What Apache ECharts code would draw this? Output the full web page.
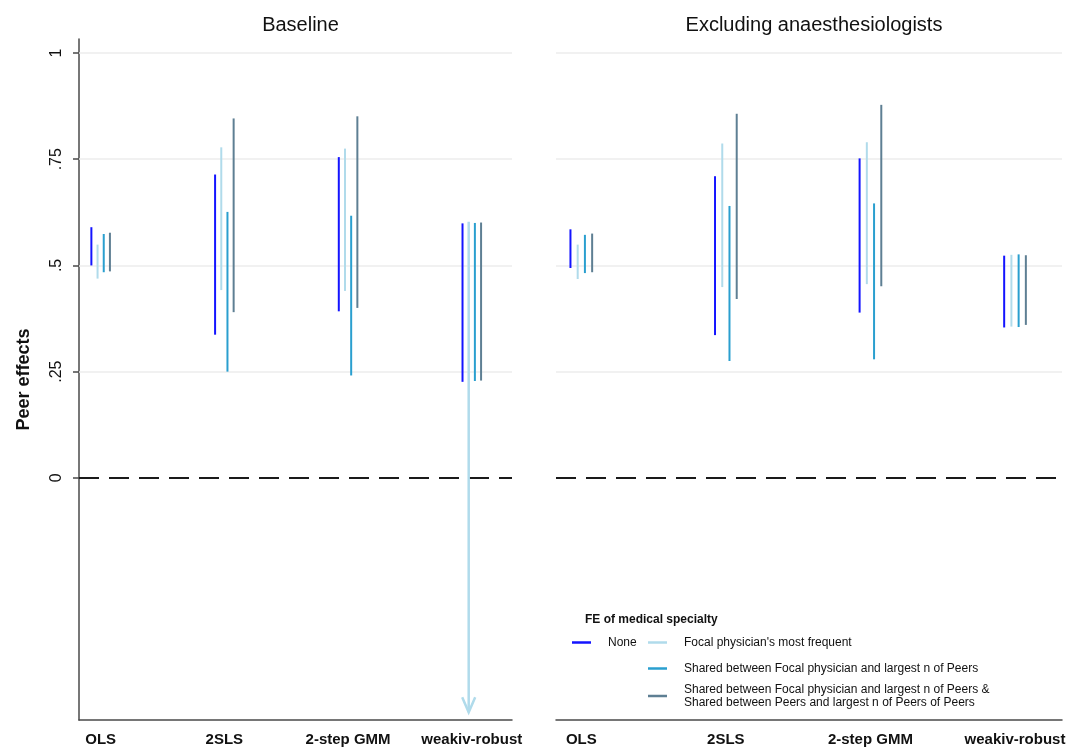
<!DOCTYPE html>
<html>
<head>
<meta charset="utf-8">
<script src="https://cdn.jsdelivr.net/npm/echarts@6/dist/echarts.min.js"></script>
<style>
  html, body { margin: 0; padding: 0; background: #ffffff; }
  #chart { width: 1080px; height: 751px; }
</style>
</head>
<body>
<div id="chart"></div>
<script>
// Estimators on the horizontal axis
const categories = ['OLS', '2SLS', '2-step GMM', 'weakiv-robust'];
const panelTitles = ['Baseline', 'Excluding anaesthesiologists'];
const legendTitle = 'FE of medical specialty';
const seriesNames = [
  'None',
  "Focal physician's most frequent",
  'Shared between Focal physician and largest n of Peers',
  'Shared between Focal physician and largest n of Peers &\nShared between Peers and largest n of Peers of Peers'
];
const seriesColors = ['#1414ff', '#b0dbeb', '#2a9fcf', '#5e7f93'];

const yTicks = [0, 0.25, 0.5, 0.75, 1];
const yTickLabels = ['0', '.25', '.5', '.75', '1'];
const referenceValue = 0;

// Confidence intervals, one value per estimator; null = unbounded below
const baseNoneLo   = [0.500, 0.337, 0.392, 0.226];
const baseNoneHi   = [0.590, 0.714, 0.755, 0.599];
const baseFocalLo  = [0.469, 0.442, 0.440, null];
const baseFocalHi  = [0.549, 0.778, 0.775, 0.603];
const baseSharedLo = [0.484, 0.250, 0.241, 0.228];
const baseSharedHi = [0.574, 0.626, 0.617, 0.600];
const baseBothLo   = [0.486, 0.390, 0.400, 0.229];
const baseBothHi   = [0.577, 0.846, 0.851, 0.601];

const exclNoneLo   = [0.494, 0.336, 0.389, 0.354];
const exclNoneHi   = [0.585, 0.710, 0.752, 0.523];
const exclFocalLo  = [0.468, 0.449, 0.456, 0.356];
const exclFocalHi  = [0.549, 0.787, 0.790, 0.525];
const exclSharedLo = [0.482, 0.275, 0.279, 0.355];
const exclSharedHi = [0.572, 0.640, 0.646, 0.526];
const exclBothLo   = [0.484, 0.421, 0.451, 0.360];
const exclBothHi   = [0.575, 0.857, 0.878, 0.524];

const panels = [
  [[baseNoneLo, baseNoneHi], [baseFocalLo, baseFocalHi], [baseSharedLo, baseSharedHi], [baseBothLo, baseBothHi]],
  [[exclNoneLo, exclNoneHi], [exclFocalLo, exclFocalHi], [exclSharedLo, exclSharedHi], [exclBothLo, exclBothHi]]
];

// Axis ranges and layout
const Y_MIN = -0.57, Y_MAX = 1.033;
const X_MIN = 0.825, X_MAX = 4.325;
const OPEN_FLOOR = -0.552;             // unbounded intervals are drawn down to here, ending in an arrow
const offsets = [-0.075, -0.025, 0.025, 0.075];

const FONT = '"Liberation Sans", Arial, Helvetica, sans-serif';
const AXIS_COLOR = '#4a4a4a';
const GRID_COLOR = '#ececec';

function renderInterval(params, api) {
  const x = api.value(0);
  const open = api.value(3) === 1;
  const lo = open ? OPEN_FLOOR : api.value(1);
  const hi = api.value(2);
  const top = api.coord([x, hi]);
  const bot = api.coord([x, lo]);
  const style = { stroke: api.visual('color'), lineWidth: open ? 2.5 : 2, fill: null };
  const children = [{
    type: 'line',
    shape: { x1: top[0], y1: top[1], x2: bot[0], y2: bot[1] },
    style: style
  }];
  if (open) {
    children.push({
      type: 'polyline',
      shape: { points: [[bot[0] - 6.5, bot[1] - 15], [bot[0], bot[1]], [bot[0] + 6.5, bot[1] - 15]] },
      style: style
    });
  }
  return { type: 'group', children: children };
}

const grids = [
  { left: 79, right: 568, top: 39, bottom: 31 },
  { left: 556, right: 18, top: 39, bottom: 31 }
];

const xAxes = grids.map((g, gi) => ({
  type: 'value',
  gridIndex: gi,
  min: X_MIN,
  max: X_MAX,
  axisLine: { show: true, onZero: false, lineStyle: { color: AXIS_COLOR, width: 1.5 } },
  axisTick: { show: false },
  splitLine: { show: false },
  axisLabel: {
    customValues: categories.map((c, i) => i + 1),
    formatter: v => categories[Math.round(v) - 1] || '',
    fontFamily: FONT,
    fontSize: 15,
    fontWeight: 'bold',
    color: '#111',
    margin: 12
  }
}));

const yAxes = grids.map((g, gi) => ({
  type: 'value',
  gridIndex: gi,
  min: Y_MIN,
  max: Y_MAX,
  name: gi === 0 ? 'Peer effects' : '',
  nameLocation: 'middle',
  nameGap: 46,
  nameTextStyle: { fontFamily: FONT, fontSize: 18, fontWeight: 'bold', color: '#111' },
  axisLine: { show: gi === 0, onZero: false, lineStyle: { color: AXIS_COLOR, width: 1.5 } },
  axisTick: { show: gi === 0, customValues: yTicks, length: 6, lineStyle: { color: AXIS_COLOR, width: 1.5 } },
  splitLine: { show: false },
  axisLabel: {
    show: gi === 0,
    customValues: yTicks,
    formatter: v => yTickLabels[yTicks.indexOf(v)] ?? '',
    rotate: 90,
    fontFamily: FONT,
    fontSize: 16,
    color: '#111',
    margin: 14
  }
}));

const series = [];
panels.forEach((panel, gi) => {
  // Horizontal gridlines at the labelled ticks (the zero line is drawn dashed instead)
  series.push({
    type: 'line',
    xAxisIndex: gi,
    yAxisIndex: gi,
    data: [],
    silent: true,
    z: 1,
    markLine: {
      silent: true,
      z: 1,
      symbol: ['none', 'none'],
      label: { show: false },
      lineStyle: { color: GRID_COLOR, width: 1.5, type: 'solid' },
      data: yTicks.filter(v => v !== referenceValue).map(v => ({ yAxis: v }))
    }
  });
  panel.forEach(([lo, hi], si) => {
    series.push({
      type: 'custom',
      name: seriesNames[si],
      xAxisIndex: gi,
      yAxisIndex: gi,
      itemStyle: { color: seriesColors[si] },
      renderItem: renderInterval,
      encode: { x: 0, y: [1, 2] },
      data: categories.map((c, i) => [i + 1 + offsets[si], lo[i] == null ? OPEN_FLOOR : lo[i], hi[i], lo[i] == null ? 1 : 0]),
      silent: true,
      z: 3,
      markLine: si === 0 ? {
        silent: true,
        z: 2,
        symbol: ['none', 'none'],
        label: { show: false },
        lineStyle: { color: '#1a1a1a', width: 2, type: [20, 10] },
        data: [{ yAxis: referenceValue }]
      } : undefined
    });
  });
});

// Legend entries placed one by one to reproduce the two-column key
const legendPos = [
  { left: 572, top: 636 },
  { left: 648, top: 636 },
  { left: 648, top: 662 },
  { left: 648, top: 683 }
];
const legends = seriesNames.map((n, i) => ({
  data: [{ name: n, itemStyle: { color: seriesColors[i] } }],
  left: legendPos[i].left,
  top: legendPos[i].top,
  padding: 0,
  orient: 'vertical',
  icon: 'rect',
  itemWidth: 19,
  itemHeight: 2.5,
  selectedMode: false,
  textStyle: { fontFamily: FONT, fontSize: 12, color: '#111', lineHeight: 13, padding: [0, 0, 0, 12] }
}));

const option = {
  backgroundColor: '#ffffff',
  animation: false,
  title: [
    { text: panelTitles[0], left: 295.5, top: 10, textAlign: 'center',
      textStyle: { fontFamily: FONT, fontSize: 20, fontWeight: 'normal', color: '#111' } },
    { text: panelTitles[1], left: 809, top: 10, textAlign: 'center',
      textStyle: { fontFamily: FONT, fontSize: 20, fontWeight: 'normal', color: '#111' } },
    { text: legendTitle, left: 580, top: 609,
      textStyle: { fontFamily: FONT, fontSize: 12, fontWeight: 'bold', color: '#111' } }
  ],
  legend: legends,
  grid: grids,
  xAxis: xAxes,
  yAxis: yAxes,
  series: series
};

const chart = echarts.init(document.getElementById('chart'), null, { renderer: 'canvas' });
chart.setOption(option);
</script>
</body>
</html>
